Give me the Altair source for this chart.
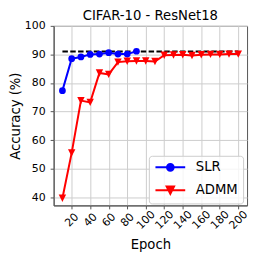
import altair as alt
import pandas as pd

# ---- data ----
slr_epochs = [10, 20, 30, 40, 50, 60, 70, 80, 90]
slr_acc = [77.3, 88.5, 89.1, 90.0, 90.1, 90.6, 90.1, 90.1, 91.1]

admm_epochs = [10, 20, 30, 40, 50, 60, 70, 80, 90, 100,
               110, 120, 130, 140, 150, 160, 170, 180, 190, 200]
admm_acc = [39.6, 55.5, 73.8, 73.2, 83.5, 83.0, 87.3, 87.6, 87.7, 87.7,
            87.5, 89.7, 89.8, 89.9, 89.6, 89.9, 90.0, 90.0, 90.1, 90.1]

baseline_epochs = [10, 200]
baseline_acc = [91.0, 91.0]

series_names = ["SLR", "ADMM"]
series_colors = ["#0000ff", "#ff0000"]

x_ticks = [20, 40, 60, 80, 100, 120, 140, 160, 180, 200]
y_ticks = [40, 50, 60, 70, 80, 90, 100]

title_text = "CIFAR-10 - ResNet18"
x_title = "Epoch"
y_title = "Accuracy (%)"

# ---- tables ----
df = pd.concat([
    pd.DataFrame({"epoch": slr_epochs, "acc": slr_acc, "series": "SLR"}),
    pd.DataFrame({"epoch": admm_epochs, "acc": admm_acc, "series": "ADMM"}),
], ignore_index=True)
base_df = pd.DataFrame({"epoch": baseline_epochs, "acc": baseline_acc})

FONT = "DejaVu Sans"

# marker / legend glyph paths
tri_mark = "M-1,-1L1,-1L0,1Z"
leg_slr = "M-1,0L5,0M1.32,0A0.68,0.68,0,1,1,2.68,0A0.68,0.68,0,1,1,1.32,0Z"
leg_admm = "M-1,0L5,0M1.25,-0.75L2.75,-0.75L2,0.75Z"

x_scale = alt.Scale(domain=[0.5, 209.5], nice=False, zero=False)
y_scale = alt.Scale(domain=[37.1, 100], nice=False, zero=False)

x_enc = alt.X("epoch:Q", scale=x_scale, axis=alt.Axis(
    values=x_ticks, title=x_title, labelAngle=-45, labelAlign="center",
    labelBaseline="middle", labelPadding=11, tickSize=3.5, labelOverlap=False,
    titleY=43, titleBaseline="alphabetic"))
y_enc = alt.Y("acc:Q", scale=y_scale, axis=alt.Axis(
    values=y_ticks, title=y_title, labelPadding=5, tickSize=3.5,
    titleX=-38, titleY=90.5, titleAngle=270, titleAlign="center",
    titleBaseline="middle"))

is_slr = "datum.value === 'SLR'"
legend = alt.Legend(
    title=None, orient="none", legendX=96, legendY=131, padding=5,
    strokeColor="#cccccc", fillColor="rgba(255,255,255,0.8)", cornerRadius=3,
    labelFont=FONT, labelFontSize=13.3, labelColor="black",
    symbolSize=100, labelOffset=29, rowPadding=6,
    symbolType={"expr": f"{is_slr} ? '{leg_slr}' : '{leg_admm}'"},
    symbolFillColor={"expr": f"{is_slr} ? '{series_colors[0]}' : '{series_colors[1]}'"},
    symbolStrokeColor={"expr": f"{is_slr} ? '{series_colors[0]}' : '{series_colors[1]}'"},
    symbolStrokeWidth=2, symbolOpacity=1,
)

color_enc = alt.Color("series:N", scale=alt.Scale(domain=series_names, range=series_colors),
                      legend=legend)

baseline = alt.Chart(base_df).mark_line(
    color="black", strokeWidth=2, strokeDash=[5.5, 2.4]
).encode(x=x_enc, y=y_enc)

lines = alt.Chart(df).mark_line(strokeWidth=2).encode(
    x=x_enc, y=y_enc, color=color_enc, detail="series:N")

slr_points = alt.Chart(df).transform_filter(
    alt.datum.series == "SLR"
).mark_point(filled=True, opacity=1, strokeWidth=0, shape="circle", size=46).encode(
    x=x_enc, y=y_enc, color=color_enc)

admm_points = alt.Chart(df).transform_filter(
    alt.datum.series == "ADMM"
).mark_point(filled=True, opacity=1, strokeWidth=0, shape=tri_mark, size=56).encode(
    x=x_enc, y=y_enc, color=color_enc)

chart = alt.layer(baseline, lines, slr_points, admm_points).properties(
    width=195, height=181,
    title=alt.TitleParams(title_text, font=FONT, fontSize=13.3, fontWeight="normal",
                          color="black", anchor="middle", offset=4, frame="group", dy=6),
    autosize=alt.AutoSizeParams(type="none"),
    padding={"left": 46, "top": 17, "right": 8, "bottom": 48},
).configure_view(
    stroke="#555555", strokeWidth=1
).configure_axis(
    labelFont=FONT, labelFontSize=11, labelColor="black",
    titleFont=FONT, titleFontSize=13.3, titleFontWeight="normal", titleColor="black",
    gridColor="#cccccc", gridWidth=1, domainColor="#555555", tickColor="#555555",
    domainWidth=1, tickWidth=1,
)

chart.save("out.html", embed_options={"renderer": "svg", "actions": False})
